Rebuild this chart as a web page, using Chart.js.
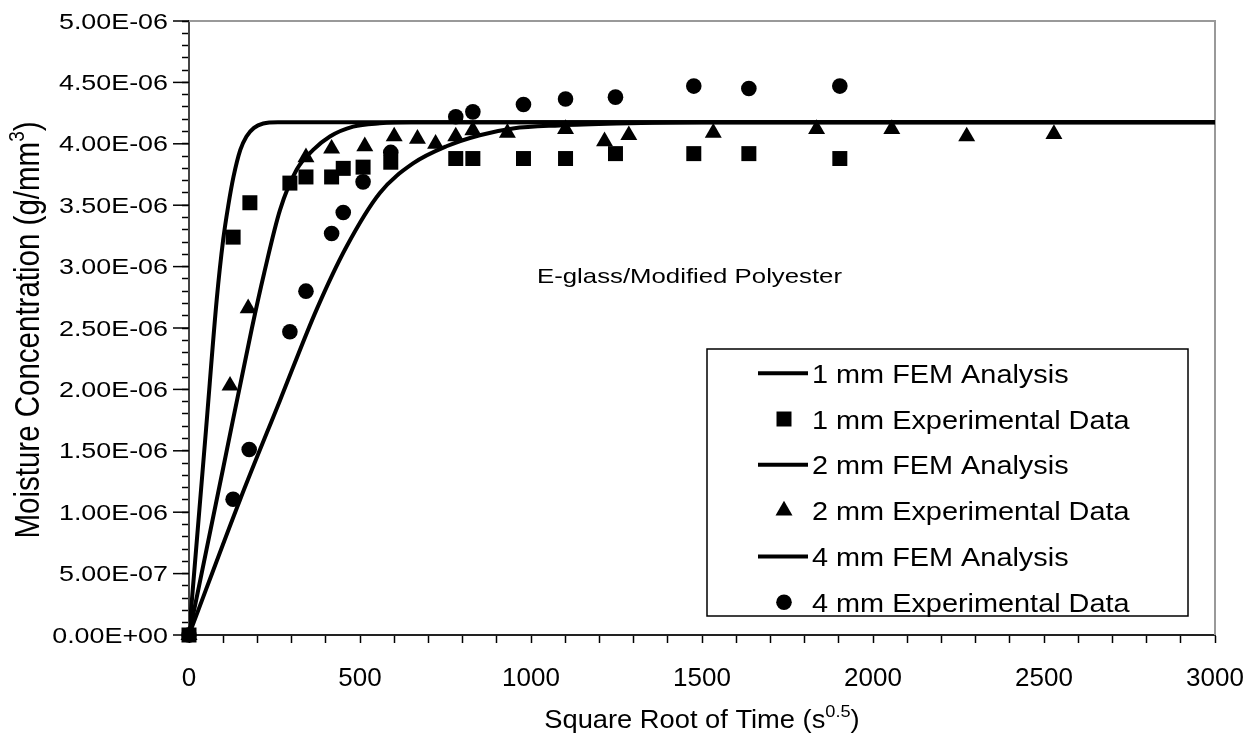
<!DOCTYPE html>
<html>
<head>
<meta charset="utf-8">
<script src="https://cdn.jsdelivr.net/npm/chart.js@4.4.0/dist/chart.umd.min.js"></script>
<style>
  html, body { margin: 0; padding: 0; background: #fff; }
  #wrap { width: 1257px; height: 740px; }
</style>
</head>
<body>
<div id="wrap"><canvas id="myChart"></canvas></div>
<script>
// x = square root of time (s^0.5), y = moisture concentration (g/mm^3)

// FEM analysis curves
var fem1Time = [0, 50, 81, 100, 115, 130, 150, 168, 190, 217, 260, 3000];
var fem1Conc = [0, 1.68e-6, 2.73e-6, 3.22e-6, 3.50e-6, 3.73e-6, 3.95e-6, 4.06e-6, 4.13e-6, 4.165e-6, 4.175e-6, 4.175e-6];

var fem2Time = [0, 100, 184, 220, 266, 315, 363, 412, 480, 558, 650, 3000];
var fem2Conc = [0, 1.36e-6, 2.50e-6, 2.95e-6, 3.46e-6, 3.79e-6, 3.95e-6, 4.06e-6, 4.14e-6, 4.167e-6, 4.175e-6, 4.175e-6];

var fem4Time = [0, 149, 266, 373, 460, 558, 655, 753, 850, 947, 1083, 1250, 1500, 3000];
var fem4Conc = [0, 1.10e-6, 1.91e-6, 2.65e-6, 3.16e-6, 3.60e-6, 3.84e-6, 3.98e-6, 4.07e-6, 4.125e-6, 4.15e-6, 4.165e-6, 4.175e-6, 4.175e-6];

// experimental data
var exp1Time = [0, 129, 178, 295, 342, 417, 451, 509, 590, 780, 830, 978, 1101, 1247, 1476, 1637, 1903];
var exp1Conc = [0, 3.24e-6, 3.52e-6, 3.68e-6, 3.73e-6, 3.73e-6, 3.80e-6, 3.81e-6, 3.85e-6, 3.88e-6, 3.88e-6, 3.88e-6, 3.88e-6, 3.92e-6, 3.92e-6, 3.92e-6, 3.88e-6];

var exp2Time = [0, 120, 173, 342, 417, 514, 600, 668, 721, 780, 830, 931, 1101, 1215, 1286, 1533, 1835, 2055, 2274, 2529];
var exp2Conc = [0, 2.03e-6, 2.66e-6, 3.89e-6, 3.96e-6, 3.98e-6, 4.06e-6, 4.04e-6, 4.00e-6, 4.06e-6, 4.11e-6, 4.09e-6, 4.12e-6, 4.02e-6, 4.07e-6, 4.09e-6, 4.12e-6, 4.12e-6, 4.06e-6, 4.08e-6];

var exp4Time = [0, 129, 176, 295, 342, 417, 451, 509, 590, 780, 830, 978, 1101, 1247, 1476, 1637, 1903];
var exp4Conc = [0, 1.105e-6, 1.51e-6, 2.47e-6, 2.80e-6, 3.27e-6, 3.44e-6, 3.69e-6, 3.93e-6, 4.22e-6, 4.26e-6, 4.32e-6, 4.365e-6, 4.38e-6, 4.47e-6, 4.45e-6, 4.47e-6];

var seriesLabels = [
  "1 mm FEM Analysis", "1 mm Experimental Data",
  "2 mm FEM Analysis", "2 mm Experimental Data",
  "4 mm FEM Analysis", "4 mm Experimental Data"
];

var xTitle = ["Square Root of Time (s", "0.5", ")"];
var yTitle = ["Moisture Concentration (g/mm", "3", ")"];
var noteText = "E-glass/Modified Polyester";

var SANS = "'Liberation Sans', Arial, sans-serif";

function pts(xs, ys) {
  return xs.map(function (x, i) { return { x: x, y: ys[i] }; });
}

function femSet(label, xs, ys) {
  return {
    label: label,
    data: pts(xs, ys),
    showLine: true,
    borderColor: "#000",
    borderWidth: 4,
    pointRadius: 0,
    cubicInterpolationMode: "monotone",
    fill: false,
    clip: { left: 0, top: 0, right: 8, bottom: 0 }
  };
}

function expSet(label, xs, ys, style, r) {
  return {
    label: label,
    data: pts(xs, ys),
    showLine: false,
    pointStyle: style,
    pointRadius: r,
    backgroundColor: "#000",
    borderColor: "#000",
    borderWidth: 0,
    clip: false
  };
}

function sciLabel(v) {
  var parts = v.toExponential(2).split("e");
  var e = parseInt(parts[1], 10);
  return parts[0] + "E" + (e < 0 ? "-" : "+") + String(Math.abs(e)).padStart(2, "0");
}

function drawMarker(ctx, style, r, x, y) {
  ctx.beginPath();
  if (style === "rect") {
    var s = r * Math.SQRT1_2;
    ctx.rect(x - s, y - s, 2 * s, 2 * s);
  } else if (style === "triangle") {
    var w = r * Math.sin(Math.PI * 2 / 3);
    ctx.moveTo(x, y - r);
    ctx.lineTo(x + w, y + r / 2);
    ctx.lineTo(x - w, y + r / 2);
    ctx.closePath();
  } else {
    ctx.arc(x, y, r, 0, Math.PI * 2);
  }
  ctx.fill();
}

// text with a raised part, centred on the current origin
function supText(ctx, parts, size) {
  var big = size + "px " + SANS, small = Math.round(size * 0.66) + "px " + SANS;
  ctx.font = big;
  var w1 = ctx.measureText(parts[0]).width;
  var w3 = ctx.measureText(parts[2]).width;
  ctx.font = small;
  var w2 = ctx.measureText(parts[1]).width;
  var x = -(w1 + w2 + w3) / 2;
  ctx.textAlign = "left";
  ctx.textBaseline = "alphabetic";
  ctx.font = big;
  ctx.fillText(parts[0], x, 0);
  ctx.font = small;
  ctx.fillText(parts[1], x + w1, -size * 0.43);
  ctx.font = big;
  ctx.fillText(parts[2], x + w1 + w2, 0);
}

function stretchedText(ctx, text, x, y, size, sx, align) {
  ctx.save();
  ctx.translate(x, y);
  ctx.scale(sx, 1);
  ctx.font = size + "px " + SANS;
  ctx.textAlign = align;
  ctx.textBaseline = "alphabetic";
  ctx.fillText(text, 0, 0);
  ctx.restore();
}

function noPadding(scale) {
  scale.paddingLeft = 0;
  scale.paddingRight = 0;
  scale.paddingTop = 0;
  scale.paddingBottom = 0;
}

var decorations = {
  id: "decorations",
  beforeDatasetsDraw: function (chart) {
    var a = chart.chartArea, ctx = chart.ctx;
    ctx.save();
    ctx.strokeStyle = "#999";
    ctx.lineWidth = 2;
    ctx.beginPath();
    ctx.moveTo(a.left, a.top);
    ctx.lineTo(a.right, a.top);
    ctx.lineTo(a.right, a.bottom);
    ctx.stroke();
    ctx.restore();
  },
  afterDraw: function (chart) {
    var ctx = chart.ctx, a = chart.chartArea;
    var xs = chart.scales.x, ys = chart.scales.y;
    var cx = (a.left + a.right) / 2;
    ctx.save();
    ctx.fillStyle = "#000";

    // y tick labels (every fifth tick) and longer major tick marks
    ctx.strokeStyle = "#000";
    ctx.lineWidth = 1.5;
    ys.ticks.forEach(function (t, i) {
      var n = Math.round(t.value / 1e-7);
      if (n % 5 !== 0) return;
      var py = ys.getPixelForTick(i);
      ctx.beginPath();
      ctx.moveTo(a.left - 16, py);
      ctx.lineTo(a.left, py);
      ctx.stroke();
      stretchedText(ctx, sciLabel(n * 1e-7), a.left - 21, py + 7.6, 21.4, 1.256, "right");
    });

    // x tick labels
    xs.ticks.forEach(function (t, i) {
      var v = Math.round(t.value);
      if (v % 500 !== 0) return;
      stretchedText(ctx, String(v), xs.getPixelForTick(i), 685.5, 25, 1.04, "center");
    });

    // x axis title
    ctx.save();
    ctx.translate(cx, 728);
    ctx.scale(1.07, 1);
    supText(ctx, xTitle, 25.5);
    ctx.restore();

    // y axis title
    ctx.save();
    ctx.translate(39, (a.top + a.bottom) / 2 + 2);
    ctx.rotate(-Math.PI / 2);
    ctx.scale(1, 1.16);
    supText(ctx, yTitle, 29.5);
    ctx.restore();

    // note inside the plot
    stretchedText(ctx, noteText, 689.5, 283, 21, 1.227, "center");

    // legend box
    var bx = 707, by = 349, bw = 481, bh = 267;
    ctx.fillStyle = "#fff";
    ctx.fillRect(bx, by, bw, bh);
    ctx.strokeStyle = "#000";
    ctx.lineWidth = 1.5;
    ctx.strokeRect(bx, by, bw, bh);
    ctx.fillStyle = "#000";
    chart.data.datasets.forEach(function (ds, i) {
      var base = 382.7 + 45.8 * i;
      var my = base - 9.5;
      if (ds.showLine) {
        ctx.strokeStyle = "#000";
        ctx.lineWidth = 4;
        ctx.beginPath();
        ctx.moveTo(758, my);
        ctx.lineTo(808, my);
        ctx.stroke();
      } else {
        drawMarker(ctx, ds.pointStyle, ds.pointRadius, 784, my);
      }
      stretchedText(ctx, ds.label, 812, base, 26, 1.11, "left");
    });
    ctx.restore();
  }
};

var ctx = document.getElementById("myChart").getContext("2d");
new Chart(ctx, {
  type: "scatter",
  data: {
    datasets: [
      femSet(seriesLabels[0], fem1Time, fem1Conc),
      expSet(seriesLabels[1], exp1Time, exp1Conc, "rect", 10.6),
      femSet(seriesLabels[2], fem2Time, fem2Conc),
      expSet(seriesLabels[3], exp2Time, exp2Conc, "triangle", 9.8),
      femSet(seriesLabels[4], fem4Time, fem4Conc),
      expSet(seriesLabels[5], exp4Time, exp4Conc, "circle", 7.8)
    ]
  },
  options: {
    responsive: true,
    maintainAspectRatio: false,
    animation: false,
    events: [],
    layout: { padding: { left: 0, top: 21, right: 42, bottom: 0 } },
    plugins: {
      legend: { display: false },
      tooltip: { enabled: false }
    },
    scales: {
      x: {
        type: "linear",
        min: 0,
        max: 3000,
        afterFit: function (scale) { scale.height = 105; noPadding(scale); },
        ticks: { stepSize: 100, autoSkip: false, display: false },
        grid: { drawOnChartArea: false, drawTicks: true, tickLength: 8, tickColor: "#000", tickWidth: 1.5 },
        border: { color: "#222", width: 2 }
      },
      y: {
        min: 0,
        max: 5e-6,
        afterFit: function (scale) { scale.width = 189; noPadding(scale); },
        ticks: { stepSize: 1e-7, autoSkip: false, display: false },
        grid: { drawOnChartArea: false, drawTicks: true, tickLength: 7, tickColor: "#000", tickWidth: 1.5 },
        border: { color: "#444", width: 2 }
      }
    }
  },
  plugins: [decorations]
});
</script>
</body>
</html>
